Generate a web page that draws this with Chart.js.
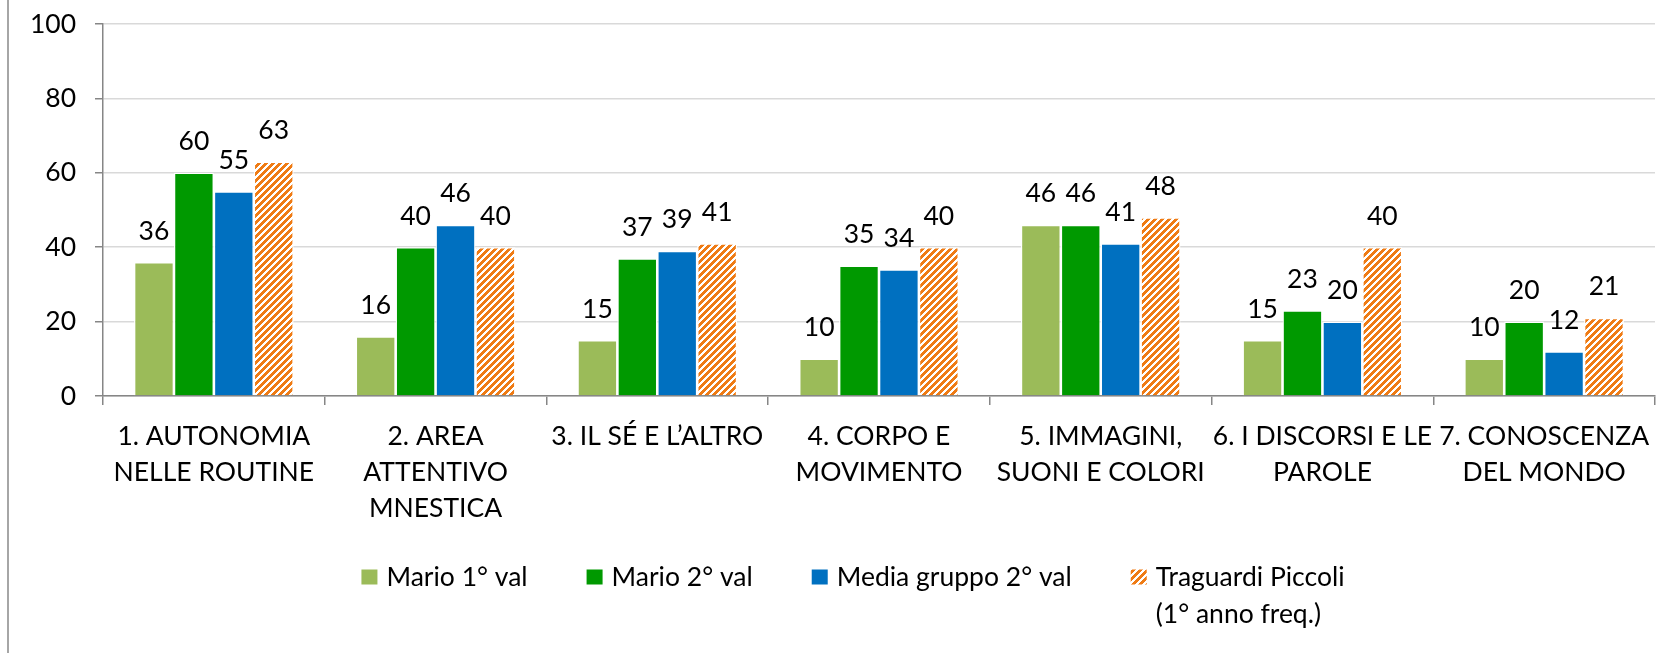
<!DOCTYPE html>
<html>
<head>
<meta charset="utf-8">
<script src="https://cdn.jsdelivr.net/npm/chart.js@4.4.1/dist/chart.umd.min.js"></script>
<style>
  body { margin: 0; background: #fff; }
  #wrap { position: relative; width: 1676px; height: 653px; }
  #page-edge { position: absolute; left: 7px; top: 0; width: 2px; height: 653px; background: #a6a6a6; }
  canvas { position: absolute; left: 0; top: 0; }
</style>
</head>
<body>
<div id="wrap">
  <canvas id="bars" width="1676" height="653"></canvas>
  <div id="page-edge"></div>
</div>
<script>
/*-----------------------------
Data
------------------------------*/
const categories = [
  ['1. AUTONOMIA', 'NELLE ROUTINE'],
  ['2. AREA', 'ATTENTIVO', 'MNESTICA'],
  ['3. IL SÉ E L\u2019ALTRO'],
  ['4. CORPO E', 'MOVIMENTO'],
  ['5. IMMAGINI,', 'SUONI E COLORI'],
  ['6. I DISCORSI E LE', 'PAROLE'],
  ['7. CONOSCENZA', 'DEL MONDO']
];
const mario1 = [36, 16, 15, 10, 46, 15, 10];
const mario2 = [60, 40, 37, 35, 46, 23, 20];
const mediaGruppo = [55, 46, 39, 34, 41, 20, 12];
const traguardi = [63, 40, 41, 40, 48, 40, 21];
const seriesNames = [
  'Mario 1\u00b0 val',
  'Mario 2\u00b0 val',
  'Media gruppo 2\u00b0 val',
  ['Traguardi Piccoli', '(1\u00b0 anno freq.)']
];
const yTicks = [0, 20, 40, 60, 80, 100];

const FONT = 'Lato';
const FONT_SIZE = 26.5;

//----------------------------------------
// hatch pattern for the last series
//----------------------------------------
function makeHatch() {
  const p = document.createElement('canvas');
  p.width = 7; p.height = 7;
  const c = p.getContext('2d');
  c.fillStyle = '#ffffff';
  c.fillRect(0, 0, 7, 7);
  c.fillStyle = '#ef7b14';
  for (let y = 0; y < 7; y++) {
    for (let x = 0; x < 7; x++) {
      if ((x + y) % 7 < 4) c.fillRect(x, y, 1, 1);
    }
  }
  return c.createPattern(p, 'repeat');
}
const hatch = makeHatch();
const colors = ['#9bbb59', '#009900', '#0070c0', hatch];

//----------------------------------------
// value labels above the bars
//----------------------------------------
const valueLabels = {
  id: 'valueLabels',
  afterDatasetsDraw(chart) {
    const ctx = chart.ctx;
    ctx.save();
    ctx.font = FONT_SIZE + 'px ' + FONT;
    ctx.fillStyle = '#000';
    ctx.textAlign = 'center';
    ctx.textBaseline = 'middle';
    chart.data.datasets.forEach((ds, i) => {
      chart.getDatasetMeta(i).data.forEach((bar, j) => {
        ctx.fillText(ds.data[j], bar.x, bar.y - 31);
      });
    });
    ctx.restore();
  }
};

//----------------------------------------
// legend drawn under the axis (multi-line last entry)
//----------------------------------------
const bottomLegend = {
  id: 'bottomLegend',
  afterDraw(chart) {
    const ctx = chart.ctx;
    const boxW = 16, boxH = 15, textGap = 9, itemGap = 59, rowY = 577, lineH = 37;
    ctx.save();
    ctx.font = FONT_SIZE + 'px ' + FONT;
    ctx.textBaseline = 'middle';
    ctx.textAlign = 'left';
    const items = chart.data.datasets.map(ds => {
      const lines = Array.isArray(ds.label) ? ds.label : [ds.label];
      const w = Math.max(...lines.map(l => ctx.measureText(l).width));
      return { lines, w, fill: ds.backgroundColor };
    });
    let total = 0;
    items.forEach((it, i) => { total += boxW + textGap + it.w + (i < items.length - 1 ? itemGap : 0); });
    let x = 853 - total / 2;
    items.forEach(it => {
      ctx.fillStyle = it.fill;
      ctx.fillRect(x, rowY - boxH / 2, boxW, boxH);
      ctx.fillStyle = '#000';
      it.lines.forEach((l, k) => ctx.fillText(l, x + boxW + textGap, rowY + k * lineH));
      x += boxW + textGap + it.w + itemGap;
    });
    ctx.restore();
  }
};

const datasets = [mario1, mario2, mediaGruppo, traguardi].map((vals, i) => ({
  label: seriesNames[i],
  data: vals,
  backgroundColor: colors[i],
  borderColor: '#ffffff',
  borderWidth: 1.3,
  barPercentage: 1,
  categoryPercentage: 0.72
}));

new Chart(document.getElementById('bars'), {
  type: 'bar',
  data: { labels: categories, datasets: datasets },
  options: {
    responsive: false,
    animation: false,
    layout: { padding: { left: 0, right: 21, top: 24, bottom: 0 } },
    plugins: {
      legend: { display: false },
      tooltip: { enabled: false }
    },
    scales: {
      x: {
        grid: {
          offset: true,
          drawOnChartArea: false,
          tickLength: 9,
          tickColor: '#868686',
          lineWidth: 1.5
        },
        border: { color: '#868686', width: 1.5 },
        ticks: {
          color: '#000',
          padding: 13,
          maxRotation: 0,
          autoSkip: false,
          font: { family: FONT, size: FONT_SIZE, lineHeight: 36 / 26.5 }
        },
        afterFit(scale) { scale.height = 257; }
      },
      y: {
        min: 0,
        max: 100,
        afterBuildTicks(scale) { scale.ticks = yTicks.map(v => ({ value: v })); },
        grid: {
          color: '#d9d9d9',
          lineWidth: 1.5,
          tickLength: 8,
          tickColor: '#868686'
        },
        border: { color: '#868686', width: 1.5 },
        ticks: {
          color: '#000',
          padding: 19,
          font: { family: FONT, size: FONT_SIZE }
        },
        afterFit(scale) {
          scale.width = 103;
          scale.paddingTop = 16;
          scale.paddingBottom = 16;
        }
      }
    }
  },
  plugins: [valueLabels, bottomLegend]
});
</script>
</body>
</html>
